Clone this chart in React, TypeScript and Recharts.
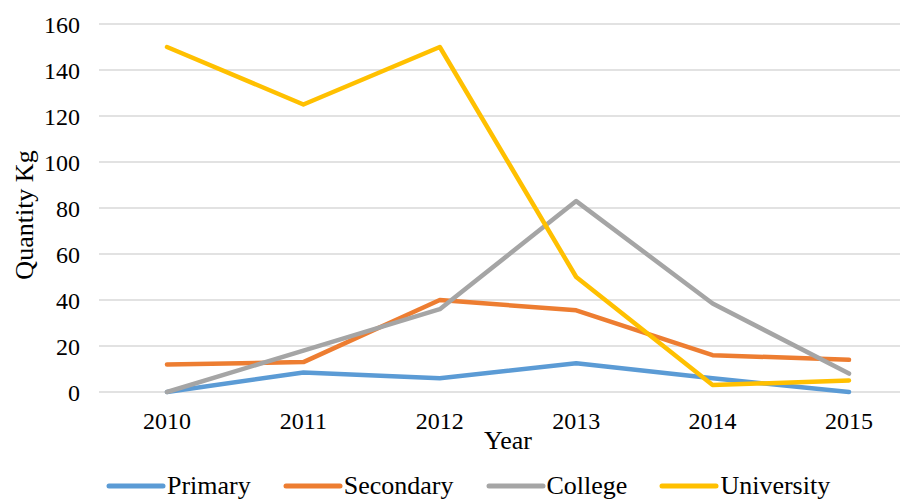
import {
  LineChart,
  Line,
  XAxis,
  YAxis,
  CartesianGrid,
  Legend,
  Label,
} from "recharts";

const years = ["2010", "2011", "2012", "2013", "2014", "2015"];
const primary = [0, 8.5, 6, 12.5, 6, 0];
const secondary = [12, 13, 40, 35.5, 16, 14];
const college = [0, 18, 36, 83, 38.5, 8];
const university = [150, 125, 150, 50, 3, 5];
const yTicks = [0, 20, 40, 60, 80, 100, 120, 140, 160];

const series = [
  { key: "Primary", values: primary, color: "#5B9BD5" },
  { key: "Secondary", values: secondary, color: "#ED7D31" },
  { key: "College", values: college, color: "#A5A5A5" },
  { key: "University", values: university, color: "#FFC000" },
];

const data = years.map((year, i) => {
  const row: Record<string, string | number> = { year };
  series.forEach((s) => {
    row[s.key] = s.values[i];
  });
  return row;
});

const FONT = '"Liberation Serif", "Times New Roman", serif';

const YTitle = ({ viewBox }: any) => {
  const cy = viewBox.y + viewBox.height / 2 + 7;
  return (
    <text
      x={24}
      y={cy}
      transform={`rotate(-90, 24, ${cy})`}
      textAnchor="middle"
      dominantBaseline="central"
      style={{ fontFamily: FONT, fontSize: 26 }}
      fill="#000"
    >
      Quantity Kg
    </text>
  );
};

const LegendRow = () => (
  <div
    style={{
      display: "flex",
      alignItems: "center",
      paddingLeft: 106,
      paddingTop: 9,
      fontFamily: FONT,
      fontSize: 26,
      color: "#000",
      lineHeight: "30px",
    }}
  >
    {series.map((s) => (
      <div
        key={s.key}
        style={{ display: "flex", alignItems: "center", marginRight: 32 }}
      >
        <svg width={60} height={10} style={{ marginRight: 1 }}>
          <line
            x1={3}
            y1={5}
            x2={57}
            y2={5}
            stroke={s.color}
            strokeWidth={5}
            strokeLinecap="round"
          />
        </svg>
        <span>{s.key}</span>
      </div>
    ))}
  </div>
);

export default function App() {
  return (
    <div
      style={{
        position: "absolute",
        top: 0,
        left: 0,
        width: 900,
        height: 500,
        overflow: "hidden",
        background: "#fff",
        fontFamily: FONT,
      }}
    >
      <LineChart
        width={920}
        height={500}
        data={data}
        margin={{ top: 24, right: 3, left: 0, bottom: 0 }}
        style={{ fontFamily: FONT }}
      >
        <CartesianGrid vertical={false} stroke="#D9D9D9" strokeWidth={1.5} />
        <XAxis
          dataKey="year"
          axisLine={false}
          tickLine={false}
          tickSize={0}
          tickMargin={20}
          height={70}
          padding={{ left: 68, right: 68 }}
          tick={{ fill: "#000", fontSize: 24 }}
        >
          <Label
            value="Year"
            position="insideBottom"
            offset={13}
            fill="#000"
            fontSize={26}
          />
        </XAxis>
        <YAxis
          width={99}
          domain={[0, 160]}
          ticks={yTicks}
          axisLine={false}
          tickLine={false}
          tickSize={0}
          tickMargin={19}
          tick={{ fill: "#000", fontSize: 24 }}
        >
          <Label content={<YTitle />} />
        </YAxis>
        <Legend verticalAlign="bottom" height={38} content={<LegendRow />} />
        {series.map((s) => (
          <Line
            key={s.key}
            type="linear"
            dataKey={s.key}
            stroke={s.color}
            strokeWidth={4.5}
            strokeLinecap="round"
            strokeLinejoin="round"
            dot={false}
            activeDot={false}
            isAnimationActive={false}
          />
        ))}
      </LineChart>
    </div>
  );
}
